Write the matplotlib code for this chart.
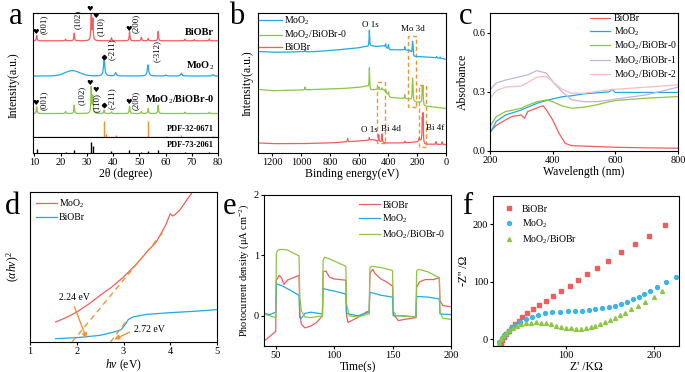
import numpy as np
import matplotlib
matplotlib.use("Agg")
import matplotlib.pyplot as plt
from matplotlib.patches import Rectangle

plt.rcParams['font.family'] = ['Liberation Serif', 'DejaVu Sans']
plt.rcParams['mathtext.fontset'] = 'custom'
plt.rcParams['mathtext.rm'] = 'Liberation Serif'
plt.rcParams['mathtext.it'] = 'Liberation Serif:italic'
plt.rcParams['mathtext.bf'] = 'Liberation Serif:bold'

RED = '#f25c5c'
BLUE = '#1fa9e6'
GREEN = '#8dc63f'
PURPLE = '#c5b3dc'
PINK = '#f7bcc4'
ORANGE = '#f29330'

# ---------------- (a) XRD ----------------
xrd_labels = ['BiOBr', 'MoO$_2$', 'MoO$_2$/BiOBr-0']
bio_base = 287
bio_peaks_pos = [10.9, 21.9, 25.2, 31.7, 32.3, 39.4, 46.3, 50.8, 53.4, 57.2, 67.4, 71.0, 76.7]
bio_peaks_h = [16, 5, 23, 90, 62, 9, 28, 11, 7, 28, 5, 4, 6]
moo_base = 182
moo_hump = (24.5, 16)
moo_peaks_pos = [36.6, 41.0, 53.3, 60.2, 66.0, 78.0]
moo_peaks_h = [50, 10, 33, 3, 8, 4]
mb_base = 70
mb_peaks_pos = [10.9, 21.9, 25.2, 31.7, 32.3, 36.6, 39.4, 46.3, 50.8, 53.4, 57.2, 67.4, 76.7]
mb_peaks_h = [20, 6, 25, 78, 50, 10, 5, 22, 6, 15, 25, 4, 4]
pdf32_pos = [36.6, 37.4, 41.3, 53.3, 60.2, 66.0, 78.0]
pdf32_h = [48, 10, 5, 48, 3, 6, 3]
pdf73_pos = [10.9, 21.9, 25.2, 31.7, 32.2, 39.4, 46.2, 50.7, 53.4, 57.1, 67.4, 76.7]
pdf73_h = [12, 4, 10, 32, 22, 5, 8, 4, 5, 8, 3, 3]

# ---------------- (b) XPS ----------------
xps_b_eV = [1300, 1200, 1100, 1000, 960, 900, 800, 700, 620, 560, 540, 520, 480, 430, 400, 380, 300, 250, 220, 200, 100, 0]
xps_b_y = [303, 301, 301, 303, 302, 303, 306, 310, 313, 318, 318, 320, 318, 320, 310, 308, 308, 306, 288, 288, 286, 280]
xps_b_pk = [975, 530, 418, 398, 285, 232, 229, 65, 40]
xps_b_ph = [6, 48, 10, 14, 10, 30, 25, 4, 4]
xps_g_eV = [1300, 1200, 1000, 900, 700, 600, 545, 520, 480, 430, 385, 300, 250, 220, 170, 150, 100, 0]
xps_g_y = [190, 186, 188, 190, 193, 196, 200, 188, 190, 188, 166, 163, 161, 153, 150, 140, 138, 133]
xps_g_pk = [975, 530, 465, 442, 418, 398, 285, 232, 229, 164, 159]
xps_g_ph = [8, 62, 8, 6, 8, 10, 12, 55, 40, 45, 50]
xps_r_eV = [1300, 1200, 1000, 800, 700, 600, 540, 500, 480, 420, 300, 200, 180, 150, 100, 0]
xps_r_y = [30, 28, 28, 30, 33, 36, 38, 40, 36, 30, 30, 33, 38, 26, 26, 25]
xps_r_pk = [680, 530, 465, 442, 285, 185, 164, 159, 70, 27]
xps_r_ph = [10, 8, 20, 25, 5, 8, 65, 82, 8, 8]

# ---------------- (c) UV-vis ----------------
uv_wl_bio = [200, 220, 250, 270, 300, 310, 320, 340, 360, 370, 380, 400, 420, 440, 460, 500, 600, 700, 800]
uv_bio = [0.098, 0.13, 0.158, 0.175, 0.183, 0.166, 0.200, 0.212, 0.225, 0.229, 0.208, 0.158, 0.090, 0.039, 0.027, 0.025, 0.019, 0.016, 0.014]
uv_wl = [200, 220, 250, 300, 320, 350, 380, 400, 430, 460, 500, 540, 580, 590, 600, 700, 800]
uv_moo = [0.090, 0.150, 0.183, 0.208, 0.222, 0.242, 0.256, 0.264, 0.275, 0.280, 0.290, 0.295, 0.300, 0.313, 0.297, 0.297, 0.297]
uv_mb0 = [0.124, 0.175, 0.200, 0.217, 0.232, 0.250, 0.259, 0.250, 0.229, 0.217, 0.222, 0.234, 0.250, 0.252, 0.256, 0.268, 0.276]
uv_mb1 = [0.310, 0.345, 0.360, 0.378, 0.386, 0.408, 0.395, 0.352, 0.300, 0.260, 0.250, 0.250, 0.258, 0.260, 0.263, 0.285, 0.324]
uv_mb2 = [0.268, 0.306, 0.324, 0.330, 0.347, 0.375, 0.378, 0.352, 0.313, 0.293, 0.293, 0.302, 0.310, 0.312, 0.313, 0.324, 0.336]
uv_names = ['BiOBr', 'MoO$_2$', 'MoO$_2$/BiOBr-0', 'MoO$_2$/BiOBr-1', 'MoO$_2$/BiOBr-2']

# ---------------- (d) Tauc ----------------
tauc_moo_x = [1.55, 1.8, 2.0, 2.25, 2.5, 2.75, 3.0, 3.25, 3.5, 3.7, 3.8, 3.9, 4.0, 4.05, 4.1, 4.2, 4.3, 4.45]
tauc_moo_y = [60, 75, 90, 113, 140, 165, 195, 230, 270, 300, 325, 350, 385, 378, 382, 395, 415, 445]
tauc_bio_x = [1.55, 2.0, 2.5, 2.8, 2.95, 3.05, 3.1, 3.2, 3.5, 4.0, 4.5, 5.0]
tauc_bio_y = [10, 13, 20, 30, 37, 55, 67, 75, 83, 88, 92, 97]
tauc_fit_moo_x = [1.9, 3.85]
tauc_fit_moo_y = [0, 330]
tauc_fit_bio_x = [2.72, 3.1]
tauc_fit_bio_y = [0, 70]
gap_values = ['2.24 eV', '2.72 eV']

# ---------------- (e) photocurrent ----------------
pc_t_r = [40, 45, 50, 50.6, 53, 55, 57, 60, 65, 70, 70.6, 72, 75, 80, 85, 90, 90.6, 93, 96, 100, 110, 110.6, 112, 115, 120, 125, 128, 130, 130.6, 133, 135, 140, 145, 150, 150.6, 155, 160, 170, 170.6, 173, 178, 185, 190, 190.6, 193, 200]
pc_r = [-0.42, -0.34, -0.26, 0.59, 0.67, 0.63, 0.52, 0.59, 0.63, 0.67, 0.03, -0.14, -0.20, -0.17, -0.11, 0.0, 0.73, 0.74, 0.64, 0.61, 0.59, 0.0, -0.11, -0.08, -0.03, 0.03, 0.07, 0.06, 0.70, 0.77, 0.70, 0.61, 0.56, 0.49, 0.03, -0.08, -0.06, -0.03, 0.47, 0.56, 0.60, 0.60, 0.63, 0.25, 0.17, 0.15]
pc_t_b = [40, 45, 50, 50.6, 55, 60, 70, 70.6, 72, 75, 80, 90, 90.6, 95, 100, 110, 110.6, 115, 120, 130, 130.6, 140, 150, 150.6, 160, 170, 170.6, 180, 190, 190.6, 200]
pc_b = [0.04, 0.02, 0.06, 0.53, 0.50, 0.45, 0.34, -0.03, -0.04, 0.04, 0.06, 0.03, 0.45, 0.43, 0.41, 0.36, 0.04, 0.02, 0.0, 0.06, 0.39, 0.34, 0.31, 0.0, 0.0, -0.02, 0.32, 0.31, 0.28, 0.03, 0.02]
pc_t_g = [40, 50, 50.6, 52, 55, 60, 65, 70, 70.6, 72, 75, 80, 90, 90.6, 92, 95, 110, 110.6, 113, 120, 130, 130.6, 132, 140, 150, 150.6, 153, 170, 170.6, 172, 180, 190, 190.6, 193, 200]
pc_g = [0.03, -0.03, 1.04, 1.09, 1.10, 1.09, 1.04, 0.99, 0.31, 0.08, -0.02, -0.03, 0.0, 0.92, 0.97, 0.95, 0.82, 0.20, 0.0, -0.02, 0.03, 0.80, 0.82, 0.80, 0.75, 0.08, 0.0, -0.02, 0.74, 0.77, 0.73, 0.63, 0.06, -0.04, -0.06]
pc_names = ['BiOBr', 'MoO$_2$', 'MoO$_2$/BiOBr-0']

# ---------------- (f) EIS ----------------
eis_r_x = [27.0, 28.1, 30.0, 32.6, 35.6, 39.0, 42.7, 46.8, 51.3, 56.9, 63.3, 70.0, 77.5, 85.8, 94.8, 104.5, 114.2, 124.3, 135.6, 147.9, 162.5, 177.9, 194.4, 212.4]
eis_r_y = [-8.7, -1.7, 4.1, 8.7, 14.5, 20.3, 26.2, 32.0, 37.8, 44.8, 52.3, 59.3, 66.9, 75.6, 84.3, 93.0, 102.9, 112.8, 124.4, 136.6, 151.2, 165.1, 180.2, 197.7]
eis_b_x = [25.1, 27.7, 30.7, 34.5, 38.2, 43.1, 48.7, 55.1, 61.8, 69.3, 76.8, 85.0, 93.3, 102.2, 110.5, 118.7, 126.2, 133.7, 141.2, 148.7, 155.4, 162.5, 169.3, 175.7, 182.4, 188.0, 194.8, 203.4, 213.1, 224.3]
eis_b_y = [-4.7, 1.2, 7.0, 12.8, 18.6, 24.4, 30.2, 34.3, 39.0, 41.9, 44.8, 46.5, 47.7, 48.3, 48.8, 49.4, 50.6, 51.7, 53.5, 55.2, 57.6, 61.0, 65.1, 69.2, 73.8, 77.9, 83.7, 91.3, 100.0, 108.7]
eis_g_x = [25.1, 27.0, 29.6, 32.6, 36.3, 40.1, 44.6, 49.4, 55.1, 60.7, 66.3, 71.9, 77.5, 83.1, 88.8, 94.4, 100.0, 105.6, 111.2, 116.9, 122.5, 128.1, 133.7, 139.3, 144.9, 150.6, 156.2, 161.8, 167.4, 174.2, 181.6, 189.9, 199.3, 208.6]
eis_g_y = [-6.4, -0.6, 5.2, 9.9, 15.7, 19.8, 23.3, 25.6, 27.3, 28.5, 29.1, 28.5, 27.3, 25.6, 23.3, 21.5, 19.8, 18.6, 18.0, 18.0, 19.2, 20.9, 23.3, 26.2, 29.1, 33.1, 37.2, 41.3, 45.9, 51.7, 57.6, 65.1, 73.8, 83.7]
eis_names = ['BiOBr', 'MoO$_2$', 'MoO$_2$/BiOBr']


def lor(x, pos, h, g):
    return h / (1 + ((x - pos) / g) ** 2)


W, H = 685, 372
fig = plt.figure(figsize=(W / 100, H / 100), dpi=100)


def fax(l, t, r, b):
    return fig.add_axes([l / W, 1 - b / H, (r - l) / W, (b - t) / H])


TFS = 7.5
LFS = 8.5

# ---------- a ----------
axa = fax(33, 13, 218, 137)
axa2 = fax(33, 137, 218, 153)
x = np.linspace(9.5, 80, 3000)
yb = bio_base + sum(lor(x, p, h, 0.16) for p, h in zip(bio_peaks_pos, bio_peaks_h))
ym = moo_base + moo_hump[1] * np.exp(-((x - moo_hump[0]) / 4.0) ** 2) + sum(lor(x, p, h, 0.3) for p, h in zip(moo_peaks_pos, moo_peaks_h))
yg = mb_base + sum(lor(x, p, h, 0.16) for p, h in zip(mb_peaks_pos, mb_peaks_h))
axa.plot(x, yb, color=RED, lw=0.9)
axa.plot(x, ym, color=BLUE, lw=0.9)
axa.plot(x, yg, color=GREEN, lw=0.9)
axa.vlines(pdf32_pos, 0, pdf32_h, color=ORANGE, lw=1.0)
axa.set_xlim(9.5, 80)
axa.set_ylim(0, 370)
axa.set_xticks([])
axa.set_yticks([])
axa2.vlines(pdf73_pos, 0, pdf73_h, color='black', lw=1.0)
axa2.set_xlim(9.5, 80)
axa2.set_ylim(0, 48)
axa2.set_yticks([])
axa2.set_xticks([10, 20, 30, 40, 50, 60, 70, 80])
axa2.tick_params(labelsize=TFS, length=2, pad=1.5)
axa2.set_xlabel('2θ (degree)', fontsize=LFS, labelpad=1)
axa.set_ylabel('Intensity(a.u.)', fontsize=LFS, labelpad=3)
axa.yaxis.set_label_coords(-0.07, 0.42)
for s, yy in zip(xrd_labels, [313, 213, 110]):
    axa.text(78.5, yy, s, ha='right', va='center', fontsize=7.5, fontweight='bold')
axa.text(78.5, 25, 'PDF-32-0671', ha='right', va='center', fontsize=6, fontweight='bold')
axa2.text(78.5, 24, 'PDF-73-2061', ha='right', va='center', fontsize=6, fontweight='bold')
hkl = [('(001)', 13.7, 335), ('(102)', 26.5, 350), ('(110)', 35.4, 330), ('(200)', 48.5, 340),
       ('(-211)', 39.7, 262), ('(-312)', 56.6, 255),
       ('(001)', 13.6, 110), ('(102)', 28.0, 125), ('(110)', 34.0, 103), ('(-211)', 39.4, 115), ('(200)', 48.5, 110)]
for s, xx, yy in hkl:
    axa.text(xx, yy, s, rotation=90, ha='center', va='center', fontsize=6.3)
for xx, yy in [(10.6, 313), (31.2, 383), (33.4, 362), (46.0, 322), (10.4, 100), (31.0, 162), (33.2, 141), (45.9, 105)]:
    axa.text(xx, yy, '♥', ha='center', va='center', fontsize=5.3, family='DejaVu Sans', clip_on=False)
axa.plot([36.6, 36.6], [240, 95], 'D', color='black', ms=2.2, ls='none')

# ---------- b ----------
axb = fax(258, 13, 446, 153)
e = np.linspace(1300, 0, 4000)
def xps(bx, by, pk, ph):
    base = np.interp(e, bx[::-1], by[::-1])
    return base + sum(lor(e, p, h, 2.0) for p, h in zip(pk, ph))
axb.plot(e, xps(xps_b_eV, xps_b_y, xps_b_pk, xps_b_ph), color=BLUE, lw=0.9, label='MoO$_2$')
axb.plot(e, xps(xps_g_eV, xps_g_y, xps_g_pk, xps_g_ph), color=GREEN, lw=0.9, label='MoO$_2$/BiOBr-0')
axb.plot(e, xps(xps_r_eV, xps_r_y, xps_r_pk, xps_r_ph), color=RED, lw=0.9, label='BiOBr')
axb.set_xlim(1300, 0)
axb.set_ylim(0, 418)
axb.set_yticks([])
axb.set_xticks([1200, 1000, 800, 600, 400, 200, 0])
axb.tick_params(labelsize=TFS, length=2, pad=1.5)
axb.set_xlabel('Binding energy(eV)', fontsize=LFS, labelpad=1)
axb.set_ylabel('Intensity(a.u.)', fontsize=LFS, labelpad=3)
for (x0, x1, y0, y1) in [(260, 207, 138, 348), (478, 425, 31, 211), (186, 138, 18, 203)]:
    axb.add_patch(Rectangle((x1, y0), x0 - x1, y1 - y0, fill=False, ec=ORANGE, ls=(0, (3, 2)), lw=1.0))
for s, xx, yy in [('O 1s', 520, 383), ('Mo 3d', 232, 370), ('O 1s', 530, 68), ('Bi 4d', 381, 73), ('Bi 4f', 72, 76)]:
    axb.text(xx, yy, s, ha='center', va='center', fontsize=6.5)
axb.legend(loc='upper left', frameon=False, fontsize=7, handlelength=2.3, borderpad=0.0,
           labelspacing=0.2, handletextpad=0.25, borderaxespad=0.15)

# ---------- c ----------
axc = fax(490, 13, 678, 151)
axc.plot(uv_wl_bio, uv_bio, color=RED, lw=0.9, label=uv_names[0])
axc.plot(uv_wl, uv_moo, color=BLUE, lw=0.9, label=uv_names[1])
axc.plot(uv_wl, uv_mb0, color=GREEN, lw=0.9, label=uv_names[2])
axc.plot(uv_wl, uv_mb1, color=PURPLE, lw=0.9, label=uv_names[3])
axc.plot(uv_wl, uv_mb2, color=PINK, lw=0.9, label=uv_names[4])
axc.set_xlim(200, 800)
axc.set_ylim(0, 0.7)
axc.set_xticks([200, 400, 600, 800])
axc.set_yticks([0.0, 0.3, 0.6])
axc.tick_params(labelsize=TFS, length=2, pad=1.5)
axc.set_xlabel('Wavelength (nm)', fontsize=LFS, labelpad=1)
axc.set_ylabel('Absorbance', fontsize=LFS, labelpad=2)
axc.legend(loc='upper right', frameon=False, fontsize=7, handlelength=2.0, borderpad=0.0,
           labelspacing=0.2, handletextpad=0.4, borderaxespad=0.15)

# ---------- d ----------
axd = fax(30, 192, 217, 342)
axd.plot(tauc_moo_x, tauc_moo_y, color=RED, lw=0.9, label='MoO$_2$')
axd.plot(tauc_bio_x, tauc_bio_y, color=BLUE, lw=0.9, label='BiOBr')
axd.plot(tauc_fit_moo_x, tauc_fit_moo_y, color=ORANGE, lw=1.0, ls=(0, (4, 3)))
axd.plot(tauc_fit_bio_x, tauc_fit_bio_y, color=ORANGE, lw=1.0, ls=(0, (4, 3)))
axd.annotate('', xy=(2.23, 3), xytext=(1.93, 113),
             arrowprops=dict(arrowstyle='-|>', color=ORANGE, lw=1.0, mutation_scale=7))
axd.annotate('', xy=(2.75, 4), xytext=(3.18, 33),
             arrowprops=dict(arrowstyle='-|>', color=ORANGE, lw=1.0, mutation_scale=7))
axd.text(1.95, 135, gap_values[0], ha='center', va='center', fontsize=7)
axd.text(3.55, 38, gap_values[1], ha='center', va='center', fontsize=7)
axd.set_xlim(1, 5)
axd.set_ylim(0, 450)
axd.set_yticks([])
axd.set_xticks([1, 2, 3, 4, 5])
axd.tick_params(labelsize=TFS, length=2, pad=1.5)
axd.set_xlabel(r'$hv$ (eV)', fontsize=LFS, labelpad=1)
axd.set_ylabel(r'$(\alpha hv)^2$', fontsize=LFS, labelpad=6)
axd.legend(loc='upper left', frameon=False, fontsize=7, handlelength=2.2, borderpad=0.3,
           labelspacing=0.3, handletextpad=0.2, borderaxespad=0.3)

# ---------- e ----------
axe = fax(264, 195, 451, 346)
axe.plot(pc_t_r, pc_r, color=RED, lw=0.9, label=pc_names[0])
axe.plot(pc_t_b, pc_b, color=BLUE, lw=0.9, label=pc_names[1])
axe.plot(pc_t_g, pc_g, color=GREEN, lw=0.9, label=pc_names[2])
axe.set_xlim(40, 200)
axe.set_ylim(-0.5, 2)
axe.set_xticks([50, 100, 150, 200])
axe.set_yticks([0, 1, 2])
axe.tick_params(labelsize=TFS, length=2, pad=1.5)
axe.set_xlabel('Time(s)', fontsize=LFS, labelpad=1)
axe.set_ylabel(r'Photocurrent density (μA cm$^{-2}$)', fontsize=7.5, labelpad=2)
axe.legend(loc='upper right', frameon=False, fontsize=7, handlelength=2.2, borderpad=0.3,
           labelspacing=0.3, handletextpad=0.2, borderaxespad=0.3)

# ---------- f ----------
axf = fax(493, 196, 679, 346)
axf.plot(eis_r_x, eis_r_y, 's', color=RED, ms=2.6, ls='none', label=eis_names[0])
axf.plot(eis_b_x, eis_b_y, 'o', color='#3ab4ea', ms=2.8, ls='none', label=eis_names[1])
axf.plot(eis_g_x, eis_g_y, '^', color=GREEN, ms=2.8, ls='none', label=eis_names[2])
axf.set_xlim(18, 228)
axf.set_ylim(-12, 249)
axf.set_xticks([100, 200])
axf.set_yticks([0, 100, 200])
axf.tick_params(labelsize=TFS, length=2, pad=1.5)
axf.set_xlabel("Z' /KΩ", fontsize=LFS, labelpad=1)
axf.set_ylabel("-Z'' /Ω", fontsize=LFS, labelpad=2)
axf.legend(loc='upper left', frameon=False, fontsize=7, handlelength=1.5, borderpad=0.4,
           labelspacing=0.35, handletextpad=0.6, borderaxespad=0.5)

for lab, xx, yy in [('a', 16, 16), ('b', 237, 16), ('c', 466, 16), ('d', 13, 207), ('e', 229, 207), ('f', 467, 207)]:
    fig.text(xx / W, 1 - yy / H, lab, fontsize=22, ha='center', va='center')

fig.savefig('out.png', dpi=100)
